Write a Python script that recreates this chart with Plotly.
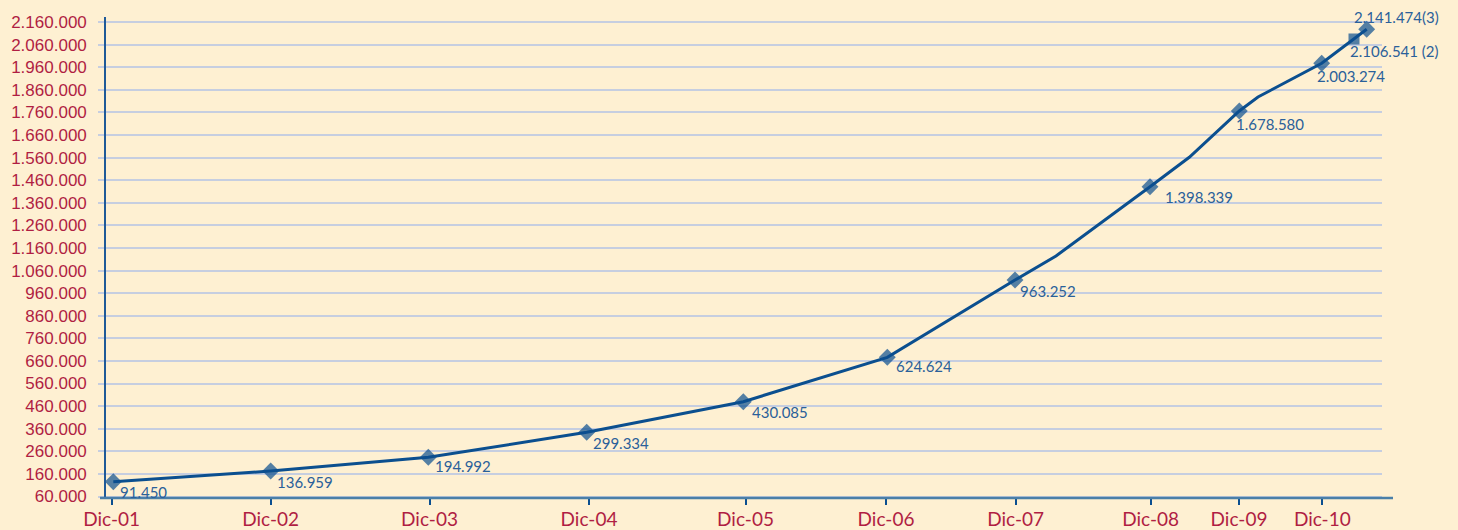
import plotly.graph_objects as go

# ---- data ----
# horizontal positions (chart units = pixels from the y axis) of the year ticks
tick_x = [5.7, 164.7, 323.5, 483.0, 639.5, 780.0, 909.7, 1044.7, 1133.0, 1216.3]
tick_text = ["Dic-01", "Dic-02", "Dic-03", "Dic-04", "Dic-05",
             "Dic-06", "Dic-07", "Dic-08", "Dic-09", "Dic-10"]

# drawn marker positions
point_x = [7.3, 164.7, 322.3, 480.7, 637.3, 781.3, 909.0, 1044.0, 1133.3, 1215.7, 1248.0, 1260.7]
point_y = [125500, 172800, 233500, 344100, 479500, 676000, 1018200, 1431100,
           1766100, 1977200, 2084800, 2127700]
point_symbol = ["diamond"] * 10 + ["square", "diamond"]
labels = ["91.450", "136.959", "194.992", "299.334", "430.085", "624.624",
          "963.252", "1.398.339", "1.678.580", "2.003.274", "2.106.541 (2)", "2.141.474(3)"]

# line path (passes through markers and a few visible bends)
line_x = [7.3, 164.7, 322.3, 480.7, 637.3, 781.3, 909.0, 950.0, 1044.0, 1083.3,
          1133.3, 1152.0, 1215.7, 1248.0, 1260.7]
line_y = [125500, 172800, 233500, 344100, 479500, 676000, 1018200, 1124400, 1431100,
          1561200, 1766100, 1828100, 1977200, 2084800, 2127700]

y_ticks = list(range(60000, 2160001, 100000))
y_tick_text = [f"{v:,}".replace(",", ".") for v in y_ticks]

# label offsets (px) relative to marker centre
label_dx = [5, 4, 5, 4, 7, 7, 3, 13, -5, -7, -6, -15]
label_dy = [-10, -11, -9, -11, -10, -9, -11, -10, -13, -13, -12, 12]

BG = "#FEF0D2"
BLUE = "#0B4F8F"
LABEL_BLUE = "#2A609A"
RED = "#B01E43"
GRID = "#C6CEE0"

fig = go.Figure()
fig.add_trace(go.Scatter(x=line_x, y=line_y, mode="lines",
                         line=dict(color=BLUE, width=3), hoverinfo="skip",
                         showlegend=False))
fig.add_trace(go.Scatter(x=point_x, y=point_y, mode="markers",
                         marker=dict(symbol=point_symbol, size=[13] * 10 + [11, 13],
                                     color=BLUE, line=dict(width=0)),
                         showlegend=False))

for x, y, t, dx, dy in zip(point_x, point_y, labels, label_dx, label_dy):
    fig.add_annotation(x=x, y=y, text=t, showarrow=False, xanchor="left",
                       yanchor="middle", xshift=dx, yshift=dy,
                       font=dict(family="Lato", size=15, color=LABEL_BLUE))

W, H = 1458, 530
L, R, T, B = 106, 76, 17, 32
pw = W - L - R

# x axis line extends slightly beyond the plot area on both sides
fig.add_shape(type="line", xref="paper", yref="paper",
              x0=-6 / pw, x1=1 + 11 / pw, y0=0, y1=0,
              line=dict(color="#4A7FA8", width=2.6))

fig.update_layout(
    width=W, height=H,
    margin=dict(l=L, r=R, t=T, b=B, autoexpand=False),
    paper_bgcolor=BG, plot_bgcolor=BG,
    xaxis=dict(range=[0, pw], tickmode="array", tickvals=tick_x, ticktext=tick_text,
               showgrid=False, zeroline=False, showline=False, automargin=False,
               ticks="outside", ticklen=6, tickwidth=2, tickcolor=BLUE,
               ticklabelstandoff=-2,
               tickfont=dict(family="Lato", size=19, color=RED)),
    yaxis=dict(range=[53360, 2182129], tickmode="array", tickvals=y_ticks,
               ticktext=y_tick_text, showgrid=True, gridcolor=GRID, gridwidth=1.5,
               zeroline=False, showline=True, linecolor="#1F5A98", linewidth=1.6,
               ticks="outside", ticklen=6, tickwidth=1.5, tickcolor=GRID,
               ticklabelstandoff=8, automargin=False,
               tickfont=dict(family="Liberation Sans, Arial, sans-serif", size=17, color=RED)),
)

fig.write_html("out.html", config={"displayModeBar": False},
               post_script="document.body.style.margin='0';"
                           "document.body.style.background='" + BG + "';")
